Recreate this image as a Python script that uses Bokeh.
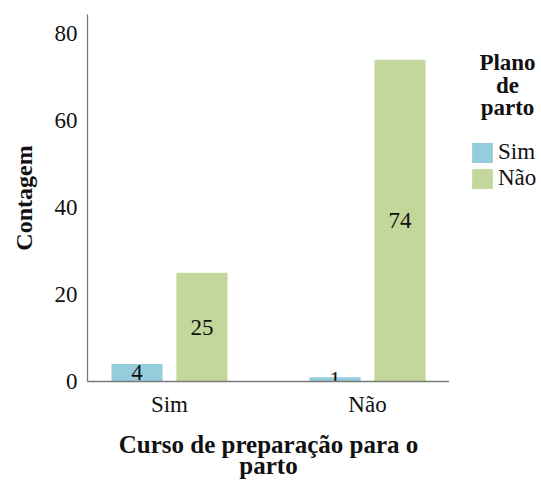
from bokeh.plotting import figure
from bokeh.layouts import row
from bokeh.models import (FactorRange, Range1d, ColumnDataSource, FixedTicker,
                          Legend, LegendItem, Label)
from bokeh.transform import dodge
from bokeh.core.properties import value
from bokeh.embed import file_html
from bokeh.resources import INLINE

# ---- data ----
categories = ["Sim", "Não"]          # Curso de preparação para o parto
plano_sim = [4, 1]                   # Plano de parto = Sim
plano_nao = [25, 74]                 # Plano de parto = Não
y_ticks = [0, 20, 40, 60, 80]
series_names = ["Sim", "Não"]
legend_title_lines = ["Plano", "de", "parto"]
x_title = "Curso de preparação para o\nparto"
y_title = "Contagem"

BLUE = "#95CDDC"
GREEN = "#C4D79B"
series_colors = [BLUE, GREEN]
series_fields = ["sim", "nao"]
AXIS = "#7a7a7a"
FONT = "Liberation Serif"
INK = "#111111"

src = ColumnDataSource(dict(
    cat=categories,
    sim=plano_sim,
    nao=plano_nao,
    sim_mid=[v / 2 for v in plano_sim],
    nao_mid=[v / 2 for v in plano_nao],
    sim_txt=[str(v) for v in plano_sim],
    nao_txt=[str(v) for v in plano_nao],
))

x_range = FactorRange(factors=categories, range_padding=-0.086,
                      range_padding_units="absolute")
y_range = Range1d(0, 84.4)

# ---------------- main chart ----------------
p = figure(width=449, height=482, x_range=x_range, y_range=y_range,
           output_backend="svg", toolbar_location=None,
           min_border_left=87, min_border_right=0,
           min_border_top=14, min_border_bottom=101)

p.outline_line_color = None
p.xgrid.grid_line_color = None
p.ygrid.grid_line_color = None

off = 0.164
bw = 0.258
offsets = [-off, off]
for fld, col, o in zip(series_fields, series_colors, offsets):
    p.vbar(x=dodge("cat", o, range=x_range), top=fld, width=bw,
           source=src, fill_color=col, line_color=None)
    p.text(x=dodge("cat", o, range=x_range), y=fld + "_mid", text=fld + "_txt",
           source=src, text_align="center", text_baseline="middle",
           text_font=value(FONT), text_font_size=value("23px"), text_color=INK)

for ax in (p.xaxis, p.yaxis):
    ax.axis_line_color = AXIS
    ax.axis_line_width = 1.3
    ax.major_tick_line_color = None
    ax.minor_tick_line_color = None
    ax.major_tick_out = 0
    ax.major_tick_in = 0
    ax.minor_tick_out = 0
    ax.major_label_text_font = FONT
    ax.major_label_text_font_size = "23px"
    ax.major_label_text_color = INK
    ax.axis_label_text_font = FONT
    ax.axis_label_text_font_style = "bold"
    ax.axis_label_text_color = INK

p.yaxis.ticker = FixedTicker(ticks=y_ticks)
p.yaxis.major_label_standoff = 10
p.yaxis.axis_label = y_title
p.yaxis.axis_label_text_font_size = "24px"
p.yaxis.axis_label_standoff = 15

p.xaxis.major_label_standoff = 10
p.xaxis.axis_label = x_title
p.xaxis.axis_label_text_font_size = "25px"
p.xaxis.axis_label_standoff = 11
p.xaxis.axis_label_text_line_height = 0.8

# ---------------- legend panel (frame aligned with main frame) ----------------
p2 = figure(width=92, height=482, x_range=x_range, y_range=y_range,
            x_axis_type=None, y_axis_type=None,
            output_backend="svg", toolbar_location=None,
            min_border_left=0, min_border_right=0,
            min_border_top=14, min_border_bottom=101)
p2.outline_line_color = None
p2.xgrid.grid_line_color = None
p2.ygrid.grid_line_color = None

items = []
for name, fld, col, o in zip(series_names, series_fields, series_colors, offsets):
    r = p2.vbar(x=dodge("cat", o, range=x_range), top=fld, width=bw,
                source=src, fill_color=col, line_color=None, visible=False)
    items.append(LegendItem(label=name, renderers=[r]))

legend = Legend(items=items, location=(20, 190), orientation="vertical",
                glyph_width=26, glyph_height=25, label_height=25, spacing=0,
                padding=0, margin=0, label_standoff=3,
                label_text_font=FONT, label_text_font_size="23px",
                label_text_color=INK, inactive_fill_alpha=0,
                border_line_color=None, background_fill_alpha=0)
p2.add_layout(legend)

for txt, yy in zip(legend_title_lines, [319, 296, 274]):
    p2.add_layout(Label(x=58, y=yy, x_units="screen", y_units="screen",
                        text=txt, text_align="center", text_baseline="middle",
                        text_font=FONT, text_font_style="bold",
                        text_font_size="23px", text_color=INK))

open("out.html", "w").write(file_html(row(p, p2), INLINE))
